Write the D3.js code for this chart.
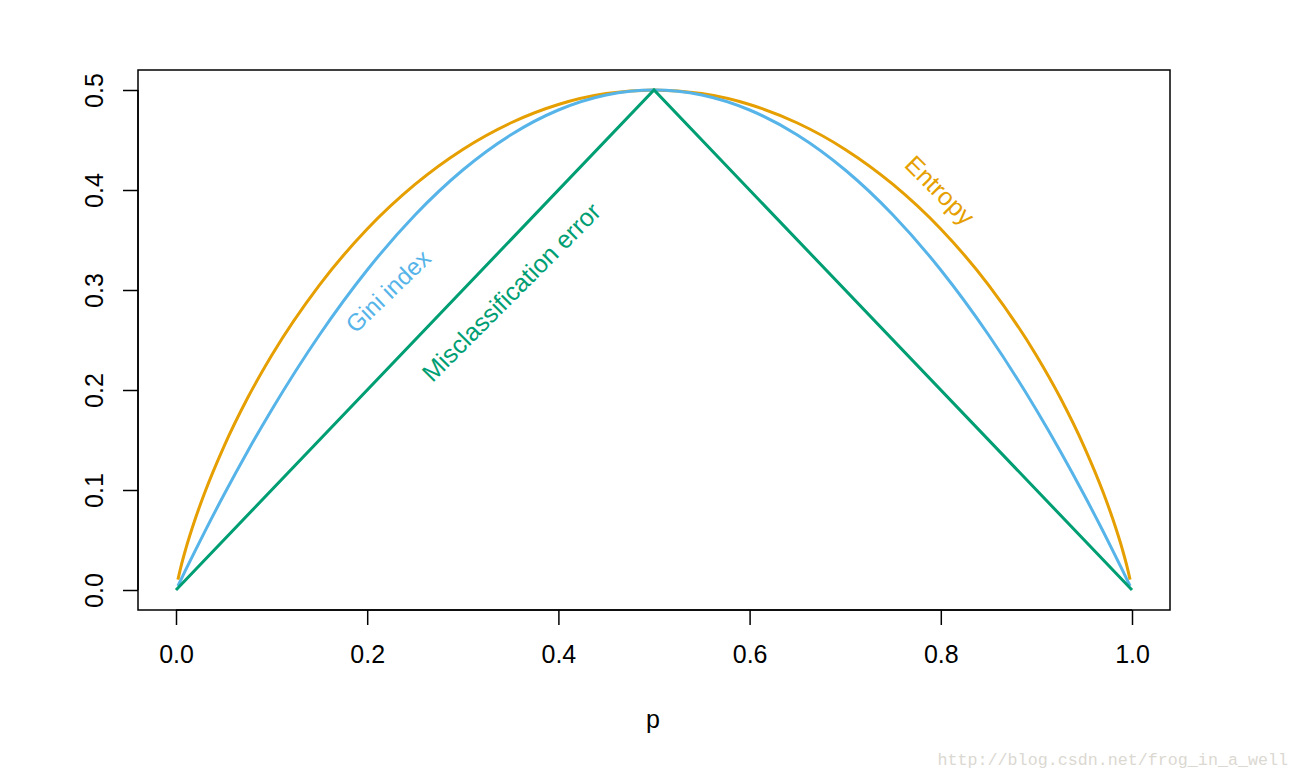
<!DOCTYPE html>
<html>
<head>
<meta charset="utf-8">
<script src="https://cdn.jsdelivr.net/npm/d3@7"></script>
<style>
  body { margin: 0; background: #fff; }
  svg { display: block; }
</style>
</head>
<body>
<div id="chart"></div>
<script>
var pGrid = [0.002, 0.005, 0.01, 0.02, 0.03, 0.05, 0.075, 0.1, 0.15, 0.2, 0.25, 0.3, 0.35, 0.4, 0.45, 0.5,
             0.55, 0.6, 0.65, 0.7, 0.75, 0.8, 0.85, 0.9, 0.925, 0.95, 0.97, 0.98, 0.99, 0.995, 0.998];
var entropy = [0.0104, 0.0227, 0.0404, 0.0707, 0.0972, 0.1432, 0.1922, 0.2345, 0.3049, 0.3610, 0.4056, 0.4406, 0.4670, 0.4855, 0.4964, 0.5,
               0.4964, 0.4855, 0.4670, 0.4406, 0.4056, 0.3610, 0.3049, 0.2345, 0.1922, 0.1432, 0.0972, 0.0707, 0.0404, 0.0227, 0.0104];
var gini = [0.004, 0.00995, 0.0198, 0.0392, 0.0582, 0.095, 0.1388, 0.18, 0.255, 0.32, 0.375, 0.42, 0.455, 0.48, 0.495, 0.5,
            0.495, 0.48, 0.455, 0.42, 0.375, 0.32, 0.255, 0.18, 0.1388, 0.095, 0.0582, 0.0392, 0.0198, 0.00995, 0.004];
var misP = [0, 0.5, 1];
var misErr = [0, 0.5, 0];
var xTicks = [0, 0.2, 0.4, 0.6, 0.8, 1.0];
var yTicks = [0, 0.1, 0.2, 0.3, 0.4, 0.5];

var width = 1300, height = 778;
var box = {left: 138, right: 1170, top: 70, bottom: 610};
var font = "Liberation Sans, Arial, Helvetica, sans-serif";

var svg = d3.select("#chart").append("svg").attr("width", width).attr("height", height);

var x = d3.scaleLinear().domain([0, 1]).range([176, 1132]);
var y = d3.scaleLinear().domain([0, 0.5]).range([590, 90]);

var line = d3.line().x(function(d) { return x(d[0]); }).y(function(d) { return y(d[1]); }).curve(d3.curveMonotoneX);
var straight = d3.line().x(function(d) { return x(d[0]); }).y(function(d) { return y(d[1]); });

var drawSeries = function(ps, vals, color, gen) {
  return svg.append("path").datum(d3.zip(ps, vals)).attr("fill", "none").attr("stroke", color)
    .attr("stroke-width", 3).attr("stroke-linejoin", "miter").attr("d", gen);
};

drawSeries(pGrid, entropy, "#E69F00", line);
drawSeries(pGrid, gini, "#56B4E9", line);
drawSeries(misP, misErr, "#009E73", straight);

// box
svg.append("rect").attr("x", box.left).attr("y", box.top).attr("width", box.right - box.left)
  .attr("height", box.bottom - box.top).attr("fill", "none").attr("stroke", "#000").attr("stroke-width", 1.5);

// axes
var xAxis = svg.append("g").attr("transform", "translate(0," + box.bottom + ")")
  .call(d3.axisBottom(x).tickValues(xTicks).tickSize(15).tickSizeOuter(0).tickPadding(20).tickFormat(d3.format(".1f")));
xAxis.select(".domain").attr("d", "M" + x(0) + ",0H" + x(1)).attr("stroke-width", 1.5);
xAxis.selectAll(".tick line").attr("stroke-width", 1.5);
xAxis.selectAll("text").style("font", "25px " + font).attr("fill", "#000");

var yAxis = svg.append("g").attr("transform", "translate(" + box.left + ",0)")
  .call(d3.axisLeft(y).tickValues(yTicks).tickSize(15).tickSizeOuter(0).tickFormat(d3.format(".1f")));
yAxis.select(".domain").attr("d", "M0," + y(0) + "V" + y(0.5)).attr("stroke-width", 1.5);
yAxis.selectAll(".tick line").attr("stroke-width", 1.5);
yAxis.selectAll("text").attr("x", 0).attr("dy", null)
  .attr("transform", "translate(-35,0) rotate(-90)").attr("text-anchor", "middle")
  .attr("dominant-baseline", "auto").style("font", "25px " + font).attr("fill", "#000");

svg.append("text").attr("x", 653).attr("y", 728).attr("text-anchor", "middle")
  .style("font", "25px " + font).text("p");

// curve labels
var label = function(txt, cx, cy, angle, color, size) {
  return svg.append("text").attr("transform", "translate(" + cx + "," + cy + ") rotate(" + angle + ")")
    .attr("text-anchor", "middle").attr("dominant-baseline", "central")
    .style("font", size + "px " + font).attr("fill", color).text(txt);
};
label("Gini index", 388, 291, -44, "#56B4E9", 24);
label("Misclassification error", 511, 292, -45, "#009E73", 25);
label("Entropy", 940, 190, 45, "#E69F00", 25);

// watermark
svg.append("text").attr("x", 1288).attr("y", 765).attr("text-anchor", "end")
  .style("font", "16.7px Liberation Mono, monospace").attr("fill", "#dbd8d1")
  .text("http://blog.csdn.net/frog_in_a_well");
</script>
</body>
</html>
